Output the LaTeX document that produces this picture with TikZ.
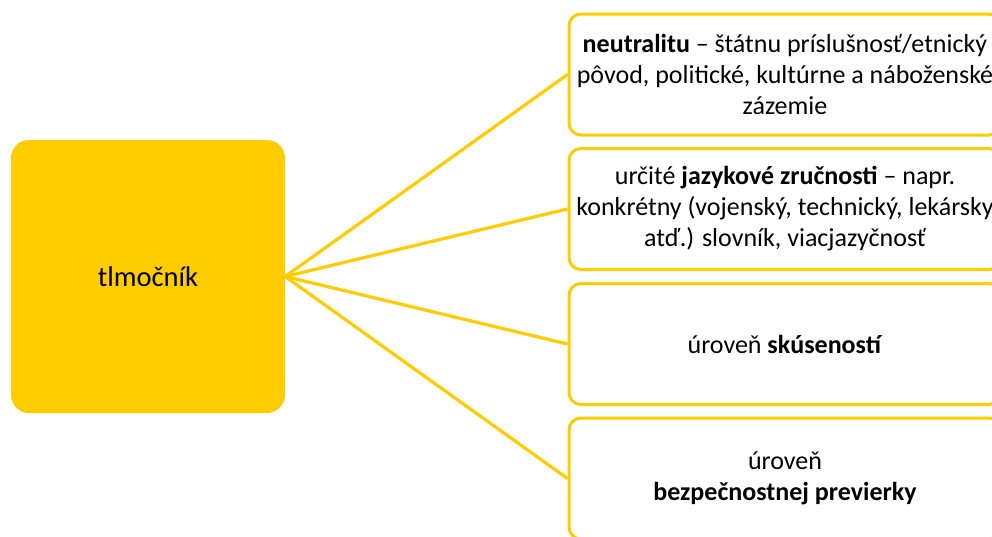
\documentclass[tikz,border=0pt]{standalone}
\usepackage{fontspec}
\setmainfont{Carlito}
\definecolor{gold}{HTML}{FFCC00}
\begin{document}
\begin{tikzpicture}[x=1pt,y=-1pt,
  hub/.style={fill=gold, draw=none, rounded corners=18pt, minimum width=274pt, minimum height=273pt, inner sep=0pt, font=\fontsize{28.5}{34}\selectfont},
  leaf/.style={draw=gold, line width=3pt, fill=white, rounded corners=12pt, minimum width=432pt, minimum height=121pt, inner sep=0pt, align=center, font=\fontsize{26}{31}\selectfont},
  link/.style={draw=gold, line width=3.2pt}]
\useasboundingbox (0,0) rectangle (992,536);
\clip (0,0) rectangle (992,536);
\node[hub] (L) at (148,276.5) {tlmočník};
\node[leaf] (b1) at (785,74.5) {\textbf{neutralitu} – štátnu príslušnosť/etnický\\pôvod, politické, kultúrne a náboženské\\zázemie};
\node[leaf] (b2) at (785,209) {určité \textbf{jazykové zručnosti} – napr.\\konkrétny (vojenský, technický, lekársky\\atď.) slovník, viacjazyčnosť};
\node[leaf] (b3) at (785,344) {úroveň \textbf{skúseností}};
\node[leaf] (b4) at (785,478.5) {úroveň\\\textbf{bezpečnostnej previerky}};
\foreach \b in {b1,b2,b3,b4} \draw[link] (L.east) -- (\b.west);
\end{tikzpicture}
\end{document}
